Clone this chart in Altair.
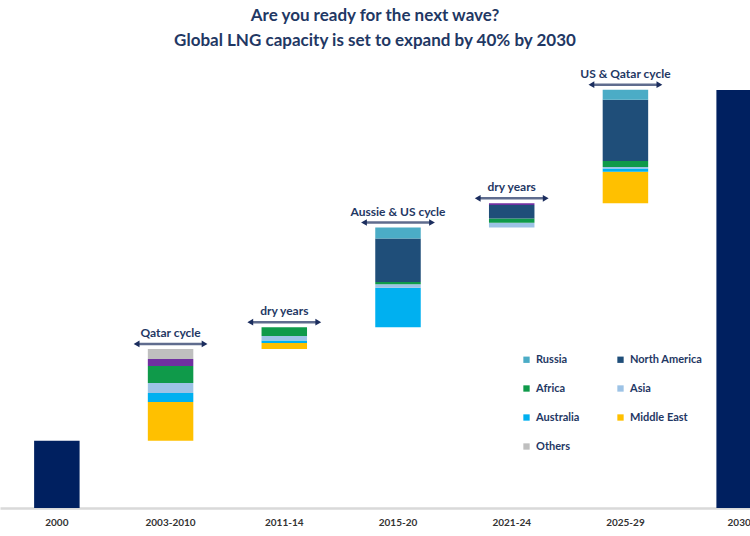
import altair as alt
import pandas as pd

# ---------------- data (mtpa) ----------------
periods = ["2000", "2003-2010", "2011-14", "2015-20", "2021-24", "2025-29", "2030"]
step_periods = ["2003-2010", "2011-14", "2015-20", "2021-24", "2025-29"]
cycle_labels = ["Qatar cycle", "dry years", "Aussie & US cycle", "dry years", "US & Qatar cycle"]

total_2000 = 111
total_2030 = 690

# additions per region for each step period (stack order bottom -> top)
middle_east = [64, 10, 0, 0, 52]
australia = [15, 4, 65, 0, 5.5]
asia = [16.5, 7.5, 6, 8, 2.5]
africa = [28, 14.5, 3.5, 7, 10]
north_america = [0, 0, 72, 22, 101]
latin_america = [11.5, 0, 0, 3, 0]
russia = [0, 0, 18, 0, 16.5]
others = [16.5, 0, 0, 0, 0]

stack_regions = ["Middle East", "Australia", "Asia", "Africa", "North America",
                 "Latin America", "Russia", "Others"]
stack_values = [middle_east, australia, asia, africa, north_america,
                latin_america, russia, others]

legend_regions = ["Russia", "North America", "Africa", "Asia", "Australia",
                  "Middle East", "Others"]
color_domain = legend_regions + ["Latin America", "Total"]
color_range = ["#4BACC6", "#1F4E79", "#0F9A4A", "#9DC3E6", "#00B0F0",
               "#FFC000", "#BFBFBF", "#7030A0", "#002060"]

# ---------------- build waterfall table ----------------
rows = [{"period": "2000", "region": "Total", "rank": 0, "y0": 0, "y1": total_2000}]
base = total_2000
tops = []
for i, p in enumerate(step_periods):
    cum = base
    for r, (name, vals) in enumerate(zip(stack_regions, stack_values)):
        v = vals[i]
        if v > 0:
            rows.append({"period": p, "region": name, "rank": r, "y0": cum, "y1": cum + v})
            cum += v
    tops.append(cum)
    base = cum
rows.append({"period": "2030", "region": "Total", "rank": 0, "y0": 0, "y1": total_2030})
bars_df = pd.DataFrame(rows)

ann_df = pd.DataFrame({"period": step_periods, "label": cycle_labels, "top": tops})

NAVY_TXT = "#1F3864"
ARROW = "#1B2D5E"
H = 440
K = 690 / 418  # mtpa per pixel
YMAX = H * K

x_scale = alt.Scale(domain=periods, range=[0, 796], paddingInner=0.6, paddingOuter=0.3)
y_scale = alt.Scale(domain=[0, YMAX], nice=False, zero=True)

x_main = alt.X("period:N", sort=periods, scale=x_scale,
               axis=alt.Axis(title=None, labelAngle=0))
x_plain = alt.X("period:N", sort=periods, scale=x_scale, title=None)

bars = alt.Chart(bars_df).mark_bar().encode(
    x=x_main,
    y=alt.Y("y0:Q", scale=y_scale, axis=None),
    y2="y1:Q",
    color=alt.Color("region:N",
                    scale=alt.Scale(domain=color_domain, range=color_range),
                    legend=alt.Legend(values=legend_regions, title=None, orient="none",
                                      direction="horizontal",
                                      legendX=521, legendY=286, columns=2,
                                      symbolType="square", symbolSize=40,
                                      symbolStrokeWidth=0, columnPadding=35,
                                      rowPadding=17, labelFont="Lato",
                                      labelFontSize=11, labelFontWeight="bold",
                                      labelColor=NAVY_TXT, padding=0, labelOffset=4)),
    order=alt.Order("rank:Q", sort="ascending"),
)

y_top = alt.Y("top:Q", scale=y_scale, axis=None)

shaft = alt.Chart(ann_df).mark_tick(size=64, thickness=2.5, color=ARROW, yOffset=-5).encode(
    x=x_plain, y=y_top,
)
head_l = alt.Chart(ann_df).mark_point(shape="triangle-left", filled=True, size=45,
                                      color=ARROW, opacity=1, xOffset=-34, yOffset=-5).encode(
    x=x_plain, y=y_top,
)
head_r = alt.Chart(ann_df).mark_point(shape="triangle-right", filled=True, size=45,
                                      color=ARROW, opacity=1, xOffset=34, yOffset=-5).encode(
    x=x_plain, y=y_top,
)
labels = alt.Chart(ann_df).mark_text(font="Lato", fontSize=12, fontWeight="bold",
                                     color=NAVY_TXT, dy=-16, baseline="middle").encode(
    x=x_plain, y=y_top, text="label:N",
)

chart = alt.layer(bars, shaft, head_l, head_r, labels).properties(
    width=750, height=H,
    background="white",
    title=alt.TitleParams(
        text=["Are you ready for the next wave?",
              "Global LNG capacity is set to expand by 40% by 2030"],
        font="Lato", fontSize=17, fontWeight="bold", color=NAVY_TXT,
        anchor="middle", offset=18, lineHeight=25),
    autosize=alt.AutoSizeParams(type="none"),
    padding={"left": 0, "right": 0, "top": 68, "bottom": 28},
).configure_view(stroke=None).configure_axisX(
    domainColor="#D9D9D9", domainWidth=2.5, ticks=False, grid=False,
    labelFont="Lato", labelFontSize=10, labelFontWeight="bold",
    labelColor="#333333", labelPadding=9,
).configure_axisY(grid=False, domain=False)

chart.save("out.html", embed_options={"renderer": "svg", "actions": False})
